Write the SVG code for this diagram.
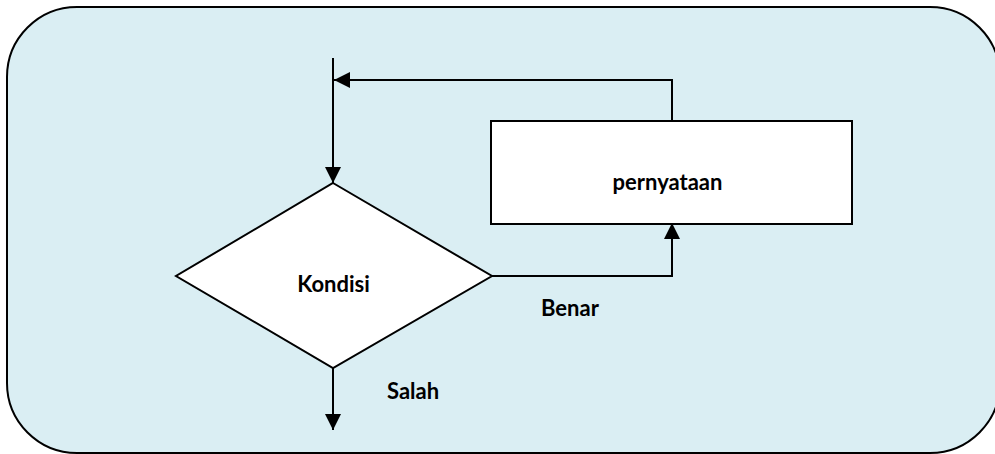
<svg xmlns="http://www.w3.org/2000/svg" width="995" height="454" viewBox="0 0 995 454">
  <style>
    .frame { fill: #DAEEF3; stroke: #000; stroke-width: 2; }
    .shape { fill: #fff; stroke: #000; stroke-width: 2; }
    .wire { fill: none; stroke: #000; stroke-width: 2; }
    .label { font-family: Lato, "Liberation Sans", sans-serif; font-weight: bold; font-size: 22px; fill: #000; }
  </style>
  <defs>
    <marker id="arrow" viewBox="0 0 16 16" refX="16" refY="8" markerWidth="16" markerHeight="16" markerUnits="userSpaceOnUse" orient="auto">
      <path d="M0,0 L16,8 L0,16 Z" fill="#000"/>
    </marker>
  </defs>

  <!-- background panel -->
  <rect class="frame" x="7" y="7" width="993" height="446" rx="70" ry="70"/>

  <g id="connectors">
    <!-- entry into the condition -->
    <path class="wire" d="M333,58 L333,183" marker-end="url(#arrow)"/>
    <!-- true branch to the statement -->
    <path class="wire" d="M492,276 L672,276 L672,223" marker-end="url(#arrow)"/>
    <!-- loop back from the statement -->
    <path class="wire" d="M672,121 L672,80 L334,80" marker-end="url(#arrow)"/>
    <!-- false branch exit -->
    <path class="wire" d="M333,368 L333,430" marker-end="url(#arrow)"/>
  </g>

  <g id="kondisi">
    <polygon class="shape" points="333,183 492,276 333,368 176,276"/>
    <text class="label" x="333.5" y="292" text-anchor="middle">Kondisi</text>
  </g>

  <g id="pernyataan">
    <rect class="shape" x="491" y="121" width="361" height="103"/>
    <text class="label" x="667.5" y="190" text-anchor="middle">pernyataan</text>
  </g>

  <g id="label-benar">
    <text class="label" x="541" y="316">Benar</text>
  </g>
  <g id="label-salah">
    <text class="label" x="387" y="399">Salah</text>
  </g>
</svg>
